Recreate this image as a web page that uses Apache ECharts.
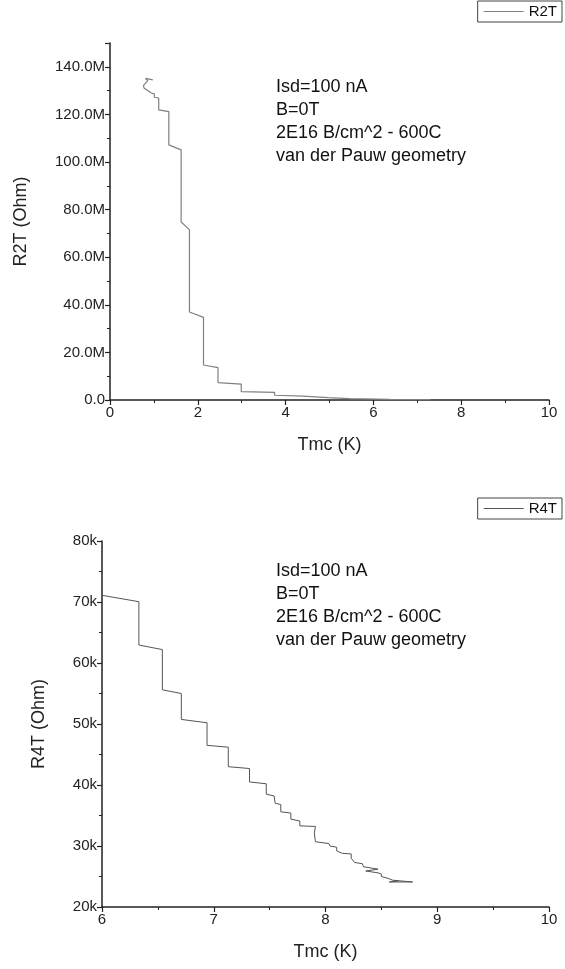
<!DOCTYPE html>
<html>
<head>
<meta charset="utf-8">
<script src="https://cdn.jsdelivr.net/npm/echarts@6/dist/echarts.min.js"></script>
<style>
  html, body { margin: 0; padding: 0; background: #fff; }
  #chart { width: 565px; height: 969px; }
</style>
</head>
<body>
<div id="chart"></div>
<script>
// R2T (MOhm) vs Tmc (K)
var r2tTemp = [0.975, 0.81, 0.86, 0.76, 0.78, 0.86, 0.94, 1.01, 1.01, 1.11, 1.11, 1.34, 1.34, 1.62, 1.62, 1.81, 1.81, 2.13, 2.13, 2.46, 2.46, 2.99, 2.99, 3.75, 3.75, 4.40, 4.40, 4.96, 5.46, 6.37, 7.30];
var r2tVals = [134.5, 135.1, 134.2, 132.1, 131.0, 130.0, 129.0, 128.6, 127.2, 126.9, 121.9, 121.2, 107.2, 105.1, 74.8, 71.6, 37.0, 34.7, 14.7, 13.6, 7.3, 6.7, 3.5, 3.2, 2.0, 1.6, 1.3, 1.0, 0.6, 0.3, 0.15];

// R4T (kOhm) vs Tmc (K), lower panel
var r4tTemp = [6.0, 6.33, 6.33, 6.54, 6.54, 6.71, 6.71, 6.94, 6.94, 7.13, 7.13, 7.32, 7.32, 7.47, 7.47, 7.54, 7.55, 7.60, 7.60, 7.69, 7.69, 7.77, 7.77, 7.91, 7.90, 7.91, 8.03, 8.04, 8.10, 8.10, 8.15, 8.23, 8.23, 8.26, 8.33, 8.34, 8.35, 8.47, 8.36, 8.47, 8.50, 8.50, 8.56, 8.60, 8.78, 8.57, 8.65, 8.60];
var r4tVals = [71.1, 70.05, 62.95, 62.2, 55.6, 55.0, 50.75, 50.2, 46.5, 46.2, 43.0, 42.7, 40.5, 40.2, 38.5, 38.2, 37.0, 36.8, 35.6, 35.4, 34.4, 34.1, 33.3, 33.2, 32.1, 30.7, 30.4, 30.0, 29.8, 29.2, 28.8, 28.7, 28.0, 27.3, 27.1, 26.6, 26.3, 26.2, 25.9, 25.6, 25.4, 25.0, 24.7, 24.4, 24.1, 24.1, 24.3, 24.2];

var noteLines = ['Isd=100 nA', 'B=0T', '2E16 B/cm^2 - 600C', 'van der Pauw geometry'];

function pairs(xs, ys) {
    return xs.map(function (x, i) { return [x, ys[i]]; });
}

var FONT = 'Liberation Sans, Arial, sans-serif';
var axisLine = { lineStyle: { color: '#222', width: 1.5 } };
var tick = { inside: false, length: 5, lineStyle: { color: '#222', width: 1.2 } };
var minor = { show: true, splitNumber: 2, length: 3, lineStyle: { color: '#222', width: 1 } };
var lbl = { color: '#222', fontSize: 15, fontFamily: FONT, margin: 5 };
var nameTxt = { color: '#222', fontSize: 18, fontFamily: FONT };

function legendBox(name, top) {
    return {
        data: [name], right: 3, top: top, orient: 'horizontal',
        icon: 'rect', itemWidth: 40, itemHeight: 1, itemGap: 4,
        borderColor: '#444', borderWidth: 1, borderRadius: 0,
        padding: [3, 5, 3, 6],
        textStyle: { color: '#111', fontSize: 15, fontFamily: FONT }
    };
}

function note(top) {
    return {
        type: 'text', left: 276, top: top,
        style: { text: noteLines.join('\n'), fill: '#111', font: '18px ' + FONT, lineHeight: 22.8 }
    };
}

var chart = echarts.init(document.getElementById('chart'));
chart.setOption({
    animation: false,
    backgroundColor: '#fff',
    grid: [
        { left: 110, right: 16, top: 43, height: 357 },
        { left: 102, right: 16, top: 541, height: 366 }
    ],
    legend: [legendBox('R2T', 1), legendBox('R4T', 498)],
    xAxis: [
        { gridIndex: 0, type: 'value', min: 0, max: 10, interval: 2, name: 'Tmc (K)', nameLocation: 'middle', nameGap: 36, nameTextStyle: nameTxt,
          axisLine: axisLine, axisTick: tick, minorTick: minor, axisLabel: lbl, splitLine: { show: false } },
        { gridIndex: 1, type: 'value', min: 6, max: 10, interval: 1, name: 'Tmc (K)', nameLocation: 'middle', nameGap: 36, nameTextStyle: nameTxt,
          axisLine: axisLine, axisTick: tick, minorTick: minor, axisLabel: lbl, splitLine: { show: false } }
    ],
    yAxis: [
        { gridIndex: 0, type: 'value', min: 0, max: 150, interval: 20, name: 'R2T (Ohm)', nameLocation: 'middle', nameGap: 80, nameTextStyle: nameTxt,
          axisLine: axisLine, axisTick: tick, minorTick: minor, splitLine: { show: false },
          axisLabel: Object.assign({}, lbl, { showMaxLabel: false, formatter: function (v) { return v === 0 ? '0.0' : v.toFixed(1) + 'M'; } }) },
        { gridIndex: 1, type: 'value', min: 20, max: 80, interval: 10, name: 'R4T (Ohm)', nameLocation: 'middle', nameGap: 54, nameTextStyle: nameTxt,
          axisLine: axisLine, axisTick: tick, minorTick: minor, splitLine: { show: false },
          axisLabel: Object.assign({}, lbl, { formatter: function (v) { return v + 'k'; } }) }
    ],
    series: [
        { name: 'R2T', type: 'line', xAxisIndex: 0, yAxisIndex: 0, symbol: 'none',
          lineStyle: { color: '#808080', width: 1.2 }, itemStyle: { color: '#808080' }, data: pairs(r2tTemp, r2tVals) },
        { name: 'R4T', type: 'line', xAxisIndex: 1, yAxisIndex: 1, symbol: 'none',
          lineStyle: { color: '#555', width: 1 }, itemStyle: { color: '#555' }, data: pairs(r4tTemp, r4tVals) }
    ],
    graphic: [note(76), note(560)]
});
</script>
</body>
</html>
